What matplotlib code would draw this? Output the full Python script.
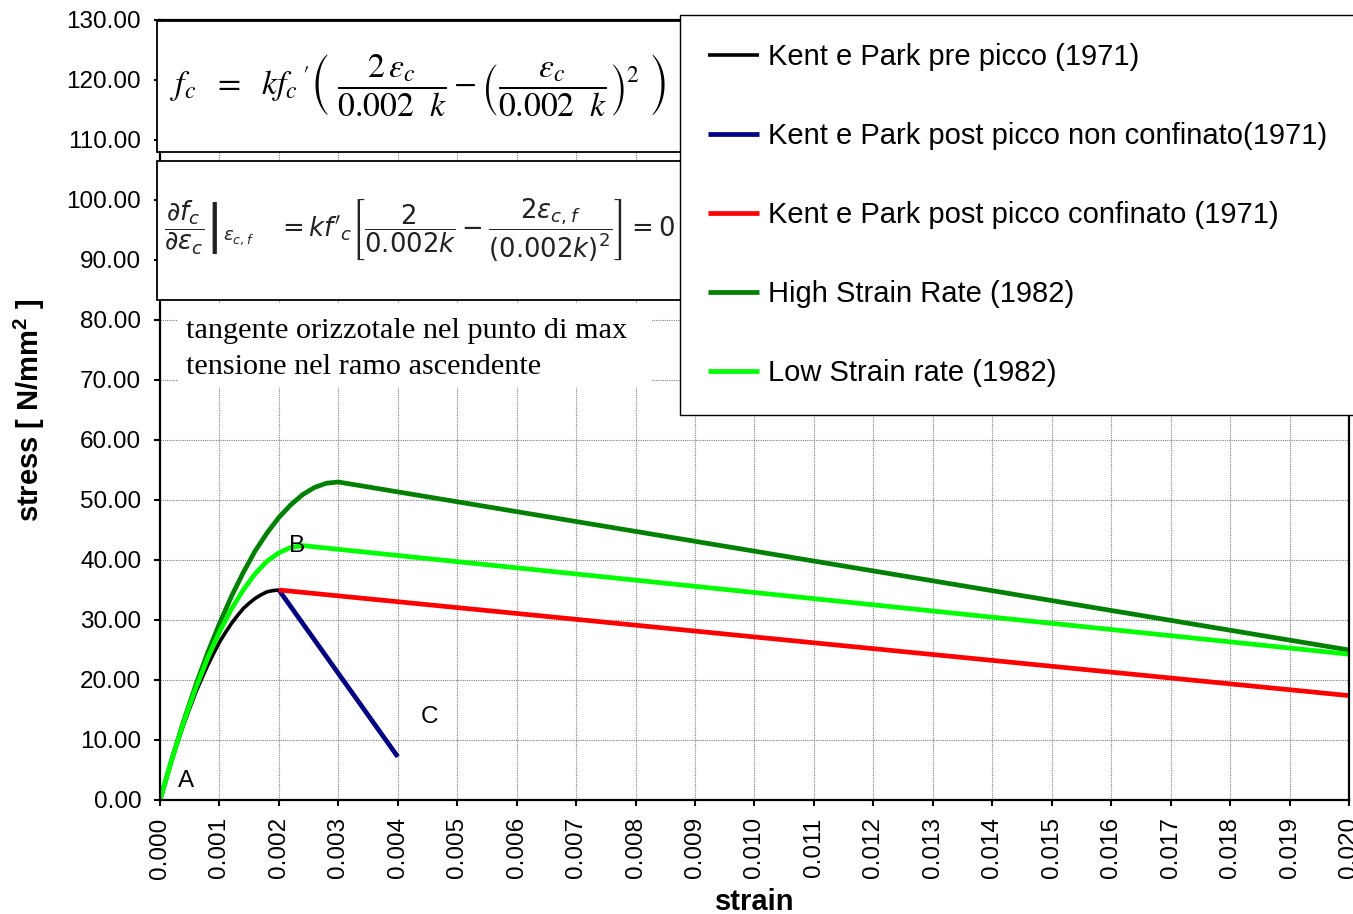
import matplotlib.pyplot as plt
from matplotlib.patches import Rectangle
from matplotlib.ticker import FormatStrFormatter, MultipleLocator

plt.rcParams['font.family'] = ['Liberation Sans', 'DejaVu Sans']
plt.rcParams['mathtext.fontset'] = 'custom'
plt.rcParams['mathtext.rm'] = 'Liberation Sans'
plt.rcParams['mathtext.bf'] = 'Liberation Sans:bold'

# Kent & Park (1971) - ascending branch, unconfined
kp_pre_strain = [0.0, 0.0001, 0.0002, 0.0003, 0.0004, 0.0005, 0.0006, 0.0007, 0.0008,
                 0.0009, 0.0010, 0.0011, 0.0012, 0.0013, 0.0014, 0.0015, 0.0016,
                 0.0017, 0.0018, 0.0019, 0.0020]
kp_pre_stress = [0.0, 3.4, 6.7, 9.7, 12.6, 15.3, 17.9, 20.2, 22.4,
                 24.4, 26.3, 27.9, 29.4, 30.7, 31.9, 32.8, 33.6,
                 34.2, 34.7, 34.9, 35.0]

# Kent & Park (1971) - descending branches
kp_unconf_strain = [0.002, 0.004]
kp_unconf_stress = [35.0, 7.2]
kp_conf_strain = [0.002, 0.020]
kp_conf_stress = [35.0, 17.4]

# Scott, Park & Priestley (1982) - high strain rate
high_strain = [0.0, 0.0002, 0.0004, 0.0006, 0.0008, 0.0010, 0.0012, 0.0014, 0.0016,
               0.0018, 0.0020, 0.0022, 0.0024, 0.0026, 0.0028, 0.0030, 0.020]
high_stress = [0.0, 6.8, 13.2, 19.1, 24.5, 29.4, 33.9, 37.9, 41.5,
               44.5, 47.1, 49.2, 50.9, 52.1, 52.8, 53.0, 25.0]

# Scott, Park & Priestley (1982) - low strain rate
low_strain = [0.0, 0.0002, 0.0004, 0.0006, 0.0008, 0.0010, 0.0012, 0.0014,
              0.0016, 0.0018, 0.0020, 0.0022, 0.0024, 0.020]
low_stress = [0.0, 6.8, 13.0, 18.6, 23.6, 28.0, 31.8, 35.0,
              37.7, 39.8, 41.2, 42.1, 42.4, 24.3]

labels = ["Kent e Park pre picco (1971)",
          "Kent e Park post picco non confinato(1971)",
          "Kent e Park post picco confinato (1971)",
          "High Strain Rate (1982)",
          "Low Strain rate (1982)"]
colors = ["#000000", "#000080", "#ff0000", "#008000", "#00ff00"]

point_names = ["A", "B", "C"]
point_x = [0.00044, 0.00231, 0.00454]
point_y = [3.2, 42.3, 13.8]

W, H = 1353, 914


def fx(px):
    return px / W


def fy(py):
    return 1 - py / H


fig = plt.figure(figsize=(W / 100, H / 100), dpi=100)
ax = fig.add_axes([fx(160), fy(800), (1349 - 160) / W, (800 - 20) / H])

series = [(kp_pre_strain, kp_pre_stress, 2.6),
          (kp_unconf_strain, kp_unconf_stress, 3.4),
          (kp_conf_strain, kp_conf_stress, 3.4),
          (high_strain, high_stress, 3.4),
          (low_strain, low_stress, 3.4)]
handles = []
for (xs, ys, lw), lab, col in zip(series, labels, colors):
    line, = ax.plot(xs, ys, color=col, lw=lw, label=lab,
                    solid_capstyle='butt', solid_joinstyle='round')
    handles.append(line)

for name, px, py in zip(point_names, point_x, point_y):
    ax.text(px, py, name, fontsize=17.5, ha='center', va='center')

ax.set_xlim(0, 0.020)
ax.set_ylim(0, 130)
ax.xaxis.set_major_locator(MultipleLocator(0.001))
ax.yaxis.set_major_locator(MultipleLocator(10))
ax.xaxis.set_major_formatter(FormatStrFormatter('%.3f'))
ax.yaxis.set_major_formatter(FormatStrFormatter('%.2f'))
ax.tick_params(axis='x', labelrotation=90, pad=8)
ax.tick_params(axis='y', pad=9)
ax.tick_params(labelsize=17.5, length=4.5, width=1.5, direction='out')
for sp in ax.spines.values():
    sp.set_linewidth(1.6)
ax.grid(True, color='#7f7f7f', lw=0.8, linestyle=(0, (1, 1)))

ax.set_ylabel(r"stress [ N/mm$^{\mathbf{2}}$ ]", fontsize=21, fontweight='bold')
ax.yaxis.set_label_coords(-0.095, 0.5)
ax.set_xlabel("strain", fontsize=21, fontweight='bold', va='top')
ax.xaxis.set_label_coords(0.5, -0.113)

# equation boxes over the upper-left part of the plot
box1 = Rectangle((fx(157), fy(152)), (681 - 157) / W, (152 - 21) / H,
                 transform=fig.transFigure, fc='white', ec='black', lw=1.3)
box2 = Rectangle((fx(157), fy(300)), (681 - 157) / W, (300 - 161) / H,
                 transform=fig.transFigure, fc='white', ec='black', lw=1.3)
note_bg = Rectangle((fx(178), fy(387)), (652 - 178) / W, (387 - 303) / H,
                    transform=fig.transFigure, fc='white', ec='none')
for p in (box1, box2, note_bg):
    fig.add_artist(p)

eq1 = (r"$f_{c}\ \ =\ \ kf_{c}\,'\left(\ \dfrac{2\,\varepsilon_{c}}{0.002\ \ k}"
       r"-\left(\dfrac{\varepsilon_{c}}{0.002\ \ k}\right)^{2}\ \right)$")
eq2 = (r"$\left.\dfrac{\partial f_{c}}{\partial \varepsilon_{c}}\right|_{\varepsilon_{c,f}}"
       r"\ \ \ =kf'_{c}\left[\dfrac{2}{0.002k}-\dfrac{2\varepsilon_{c,f}}{(0.002k)^{2}}\right]=0$")
fig.text(fx(418), fy(86), eq1, fontsize=24.2, ha='center', va='center', math_fontfamily='stix')
fig.text(fx(419), fy(230), eq2, fontsize=18.6, ha='center', va='center',
         math_fontfamily='dejavusans', color='#222222')
fig.text(fx(186), fy(349.5), "tangente orizzotale nel punto di max\ntensione nel ramo ascendente",
         fontsize=21.8, family='Liberation Serif', ha='left', va='center', linespacing=1.5)

leg = fig.legend(handles, labels, loc='upper left', bbox_to_anchor=(fx(680), fy(15)),
                 borderaxespad=0, fontsize=21, frameon=True, fancybox=False,
                 edgecolor='black', framealpha=1, borderpad=0.96, labelspacing=1.75,
                 handlelength=1.75, handletextpad=0.3)
leg.get_frame().set_linewidth(1.0)

fig.savefig("out.png", dpi=100)
